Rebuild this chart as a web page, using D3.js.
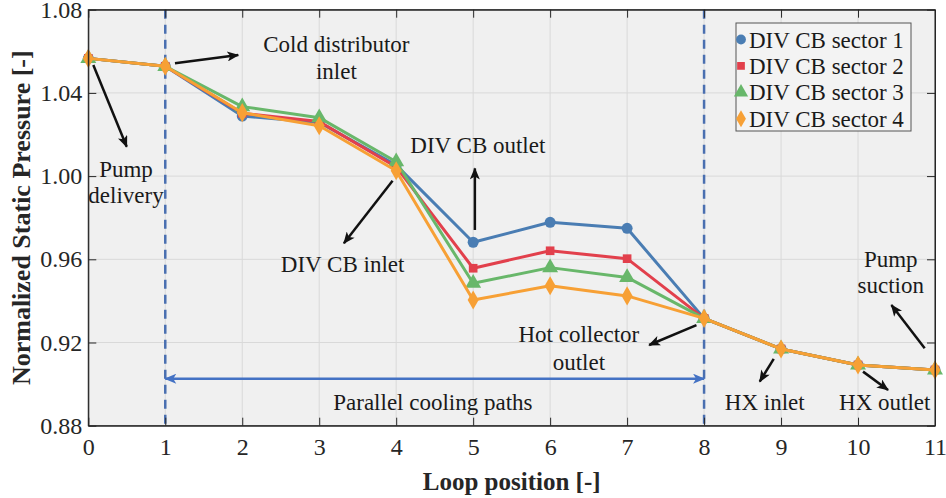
<!DOCTYPE html>
<html>
<head>
<meta charset="utf-8">
<script src="https://cdn.jsdelivr.net/npm/d3@7"></script>
<style>
  html, body { margin: 0; padding: 0; background: #fff; }
  svg { display: block; font-family: "Liberation Serif", "Times New Roman", serif; }
</style>
</head>
<body>
<svg id="chart" width="946" height="498"></svg>
<script>
// Loop positions along the cooling circuit
const positions = [0, 1, 2, 3, 4, 5, 6, 7, 8, 9, 10, 11];

// Normalized static pressure per divertor cassette body sector
const sector1 = [1.0566, 1.0528, 1.0289, 1.0258, 1.0053, 0.9682, 0.9778, 0.9749, 0.9316, 0.9169, 0.9092, 0.9068];
const sector2 = [1.0566, 1.0528, 1.0302, 1.0262, 1.0044, 0.9557, 0.9641, 0.9603, 0.9316, 0.9169, 0.9092, 0.9068];
const sector3 = [1.0566, 1.0528, 1.0334, 1.0281, 1.0069, 0.9485, 0.9560, 0.9513, 0.9316, 0.9169, 0.9092, 0.9068];
const sector4 = [1.0566, 1.0528, 1.0305, 1.0242, 1.0026, 0.9404, 0.9473, 0.9424, 0.9316, 0.9169, 0.9092, 0.9068];

const seriesNames = ["DIV CB sector 1", "DIV CB sector 2", "DIV CB sector 3", "DIV CB sector 4"];
const seriesColors = ["#4a7db3", "#e2404c", "#68b76a", "#f7a035"];
const seriesSymbols = [d3.symbolCircle, d3.symbolSquare, d3.symbolTriangle, d3.symbolDiamond];
const seriesSymbolSizes = [95, 75, 110, 105];

const xTicks = [0, 1, 2, 3, 4, 5, 6, 7, 8, 9, 10, 11];
const yTicks = [0.88, 0.92, 0.96, 1.00, 1.04, 1.08];

// Circuit component labels (data coordinates)
const labels = [
  { lines: ["Cold distributor", "inlet"], x: 3.223, y: [1.0598, 1.0465] },
  { lines: ["Pump", "delivery"], x: 0.49, y: [0.9997, 0.9871] },
  { lines: ["DIV CB outlet"], x: 5.061, y: [1.0113] },
  { lines: ["DIV CB inlet"], x: 3.304, y: [0.9540] },
  { lines: ["Hot collector", "outlet"], x: 6.373, y: [0.9204, 0.9068] },
  { lines: ["Pump", "suction"], x: 10.425, y: [0.9564, 0.9436] },
  { lines: ["HX inlet"], x: 8.788, y: [0.8876] },
  { lines: ["HX outlet"], x: 10.347, y: [0.8876] },
  { lines: ["Parallel cooling paths"], x: 4.477, y: [0.8876] }
];

// Pointer arrows: [x0, y0, x1, y1] in data coordinates, head at the end
const pointers = [
  [1.126, 1.0542, 1.948, 1.0582],
  [0.065, 1.0534, 0.499, 1.0141],
  [5.022, 0.9741, 5.022, 1.0037],
  [3.953, 0.9978, 3.321, 0.9677],
  [7.901, 0.9284, 7.286, 0.9188],
  [10.866, 0.9172, 10.434, 0.9380],
  [8.905, 0.9121, 8.723, 0.9012],
  [10.065, 0.9060, 10.390, 0.8972]
];

// Extent of the parallel cooling paths
const parallelSpan = [1, 8];
const parallelArrowY = 0.9026;

const svg = d3.select("#chart");
const margin = { left: 88.3, right: 11, top: 9.7, bottom: 72.3 };
const W = 946, H = 498;

const x = d3.scaleLinear().domain([0, 11]).range([margin.left, W - margin.right]);
const y = d3.scaleLinear().domain([0.88, 1.08]).range([H - margin.bottom, margin.top]);

const x0 = x.range()[0], x1 = x.range()[1];
const yb = y.range()[0], yt = y.range()[1];

// Plot background
svg.append("rect")
  .attr("x", x0).attr("y", yt)
  .attr("width", x1 - x0).attr("height", yb - yt)
  .attr("fill", "#f0f0f0");

// Grid
const grid = svg.append("g").attr("stroke", "#d9d9d9").attr("stroke-width", 1);
grid.selectAll(".gx").data(xTicks).join("line")
  .attr("x1", d => x(d)).attr("x2", d => x(d))
  .attr("y1", yt).attr("y2", yb);
grid.selectAll(".gy").data(yTicks).join("line")
  .attr("x1", x0).attr("x2", x1)
  .attr("y1", d => y(d)).attr("y2", d => y(d));

// Section boundaries
svg.append("g").selectAll("line").data(parallelSpan).join("line")
  .attr("x1", d => x(d)).attr("x2", d => x(d))
  .attr("y1", yt).attr("y2", yb)
  .attr("stroke", "#4a6fb0").attr("stroke-width", 2.5)
  .attr("stroke-dasharray", "9,6");

// Arrow heads
const defs = svg.append("defs");
function arrowMarker(id, color) {
  defs.append("marker")
    .attr("id", id)
    .attr("viewBox", "0 0 12 10")
    .attr("refX", 11).attr("refY", 5)
    .attr("markerWidth", 13).attr("markerHeight", 10)
    .attr("markerUnits", "userSpaceOnUse")
    .attr("orient", "auto-start-reverse")
    .append("path")
    .attr("d", "M0,0 L12,5 L0,10 L3,5 Z")
    .attr("fill", color);
}
arrowMarker("headBlack", "#111");
arrowMarker("headBlue", "#4472c4");

// Data series
const allSeries = [sector1, sector2, sector3, sector4];
const line = d3.line().x((d, i) => x(positions[i])).y(d => y(d));

// Draw so that sector 1 ends on top in the shared segments? draw 1..4 with 4 last
allSeries.forEach((vals, k) => {
  const g = svg.append("g");
  g.append("path")
    .datum(vals)
    .attr("d", line)
    .attr("fill", "none")
    .attr("stroke", seriesColors[k])
    .attr("stroke-width", 3)
    .attr("stroke-linejoin", "round");
  g.selectAll("path.pt").data(vals).join("path")
    .attr("class", "pt")
    .attr("transform", (d, i) => `translate(${x(positions[i])},${y(d)})`)
    .attr("d", d3.symbol().type(seriesSymbols[k]).size(seriesSymbolSizes[k]))
    .attr("fill", seriesColors[k]);
});

// Parallel paths double arrow
svg.append("line")
  .attr("x1", x(parallelSpan[0])).attr("x2", x(parallelSpan[1]))
  .attr("y1", y(parallelArrowY)).attr("y2", y(parallelArrowY))
  .attr("stroke", "#4472c4").attr("stroke-width", 2.5)
  .attr("marker-start", "url(#headBlue)")
  .attr("marker-end", "url(#headBlue)");

// Pointer arrows
svg.append("g").selectAll("line").data(pointers).join("line")
  .attr("x1", d => x(d[0])).attr("y1", d => y(d[1]))
  .attr("x2", d => x(d[2])).attr("y2", d => y(d[3]))
  .attr("stroke", "#111").attr("stroke-width", 2.5)
  .attr("marker-end", "url(#headBlack)");

// Component labels
const lab = svg.append("g")
  .attr("font-size", 23).attr("fill", "#1a1a1a").attr("text-anchor", "middle");
labels.forEach(l => {
  l.lines.forEach((t, i) => {
    lab.append("text").attr("x", x(l.x)).attr("y", y(l.y[i])).text(t);
  });
});

// Axes box with inward ticks
const axisColor = "#262626";
svg.append("rect")
  .attr("x", x0).attr("y", yt)
  .attr("width", x1 - x0).attr("height", yb - yt)
  .attr("fill", "none").attr("stroke", axisColor).attr("stroke-width", 1);

const xAxis = svg.append("g").attr("transform", `translate(0,${yb})`)
  .call(d3.axisBottom(x).tickValues(xTicks).tickFormat(d3.format("d")).tickSizeInner(-8).tickSizeOuter(0).tickPadding(12));
const xAxisTop = svg.append("g").attr("transform", `translate(0,${yt})`)
  .call(d3.axisTop(x).tickValues(xTicks).tickFormat("").tickSizeInner(-8).tickSizeOuter(0));
const yAxis = svg.append("g").attr("transform", `translate(${x0},0)`)
  .call(d3.axisLeft(y).tickValues(yTicks).tickFormat(d3.format(".2f")).tickSizeInner(-8).tickSizeOuter(0).tickPadding(6));
const yAxisRight = svg.append("g").attr("transform", `translate(${x1},0)`)
  .call(d3.axisRight(y).tickValues(yTicks).tickFormat("").tickSizeInner(-8).tickSizeOuter(0));

[xAxis, xAxisTop, yAxis, yAxisRight].forEach(a => {
  a.select(".domain").attr("stroke", axisColor);
  a.selectAll(".tick line").attr("stroke", axisColor);
  a.selectAll(".tick text")
    .attr("font-family", "Liberation Serif, Times New Roman, serif")
    .attr("font-size", 24).attr("fill", "#262626");
});

// Axis titles
svg.append("text")
  .attr("x", (x0 + x1) / 2).attr("y", 490)
  .attr("text-anchor", "middle")
  .attr("font-size", 25).attr("font-weight", "bold").attr("fill", "#262626")
  .text("Loop position [-]");
svg.append("text")
  .attr("transform", `translate(30,${(yt + yb) / 2}) rotate(-90)`)
  .attr("text-anchor", "middle")
  .attr("font-size", 26).attr("font-weight", "bold").attr("fill", "#262626")
  .text("Normalized Static Pressure [-]");

// Legend
const legend = svg.append("g").attr("transform", "translate(736,23)");
legend.append("rect")
  .attr("width", 175).attr("height", 108)
  .attr("fill", "#f3f3f3").attr("stroke", "#555").attr("stroke-width", 1);
seriesNames.forEach((name, k) => {
  const row = legend.append("g").attr("transform", `translate(0,${16.5 + k * 26.4})`);
  row.append("path")
    .attr("transform", "translate(5,0)")
    .attr("d", d3.symbol().type(seriesSymbols[k]).size(seriesSymbolSizes[k] * 0.8))
    .attr("fill", seriesColors[k]);
  row.append("text")
    .attr("x", 13).attr("y", 8)
    .attr("font-size", 23).attr("fill", "#1a1a1a")
    .text(name);
});
</script>
</body>
</html>
